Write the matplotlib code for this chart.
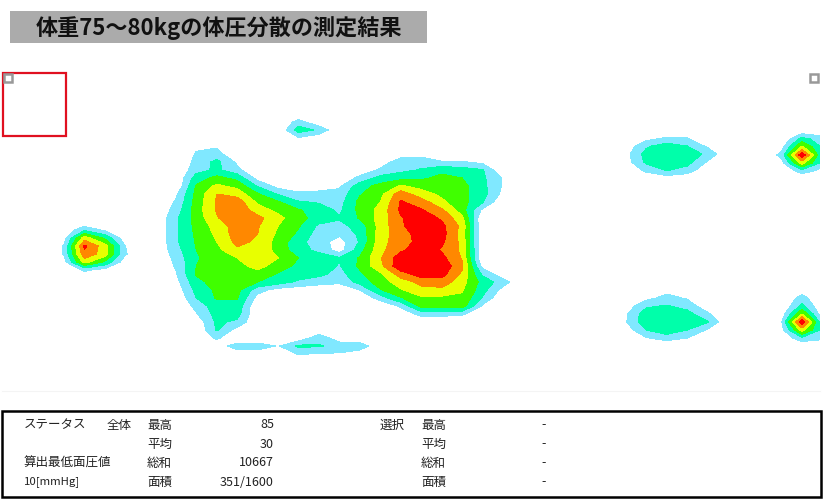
import numpy as np
import matplotlib
matplotlib.use('Agg')
import matplotlib.pyplot as plt
from matplotlib.patches import Rectangle

plt.rcParams['font.family'] = ['Noto Sans CJK JP', 'DejaVu Sans']

# pressure readings [mmHg], one array per contact area
body = [
    [0, 8, 9, 0, 0, 0, 0, 0, 0, 0, 0, 0, 0, 0, 0, 0, 0],
    [0, 11, 13, 3, 0, 0, 0, 0, 0, 0, 0, 7, 7, 0, 0, 0, 0],
    [0, 13, 23, 8, 0, 0, 0, 0, 0, 0, 7, 13, 15, 11, 11, 7, 0],
    [0, 16, 22, 13, 0, 0, 0, 0, 0, 5, 11, 17, 21, 27, 24, 21, 0],
    [0, 25, 33, 27, 6, 0, 0, 0, 4, 12, 24, 27, 28, 33, 30, 22, 9],
    [0, 31, 42, 37, 19, 6, 4, 5, 8, 26, 33, 41, 37, 35, 33, 23, 9],
    [8, 33, 50, 46, 31, 19, 12, 13, 14, 29, 37, 56, 44, 38, 33, 24, 7],
    [11, 34, 51, 56, 38, 31, 21, 19, 16, 33, 40, 61, 55, 42, 34, 21, 0],
    [14, 35, 51, 57, 45, 37, 31, 25, 18, 33, 43, 62, 61, 52, 34, 8, 0],
    [18, 34, 49, 58, 53, 43, 33, 26, 21, 31, 44, 59, 68, 58, 43, 0, 0],
    [18, 33, 44, 55, 51, 40, 31, 18, 17, 24, 44, 58, 68, 63, 47, 0, 0],
    [18, 32, 42, 55, 50, 38, 28, 15, 12, 22, 45, 56, 64, 64, 46, 0, 0],
    [18, 31, 40, 53, 48, 36, 23, 15, 5, 21, 46, 56, 63, 62, 47, 0, 0],
    [16, 30, 37, 48, 46, 37, 23, 18, 5, 26, 47, 58, 66, 59, 48, 0, 0],
    [13, 29, 34, 40, 46, 40, 30, 24, 21, 31, 49, 66, 72, 63, 49, 0, 0],
    [11, 30, 33, 37, 43, 36, 27, 26, 19, 32, 47, 68, 75, 67, 52, 6, 0],
    [9, 31, 34, 36, 37, 29, 26, 23, 16, 28, 38, 55, 66, 64, 48, 18, 3],
    [6, 27, 34, 35, 30, 25, 18, 14, 12, 24, 35, 45, 53, 56, 44, 26, 15],
    [3, 23, 32, 33, 14, 6, 4, 3, 2, 10, 29, 39, 47, 47, 41, 24, 6],
    [0, 20, 31, 31, 6, 0, 0, 0, 0, 0, 15, 29, 38, 38, 38, 19, 0],
    [0, 13, 26, 27, 0, 0, 0, 0, 0, 0, 0, 12, 33, 33, 35, 8, 0],
    [0, 9, 24, 24, 0, 0, 0, 0, 0, 0, 0, 2, 14, 14, 12, 0, 0],
    [0, 3, 22, 18, 0, 0, 0, 0, 0, 0, 0, 0, 0, 0, 0, 0, 0],
    [0, 0, 21, 6, 0, 0, 0, 0, 0, 0, 0, 0, 0, 0, 0, 0, 0],
    [0, 0, 12, 0, 0, 0, 0, 0, 0, 0, 0, 0, 0, 0, 0, 0, 0],
]
head_spot = [
    [2, 18, 8, 0],
    [6, 45, 28, 3],
    [11, 62, 44, 10],
    [11, 57, 45, 11],
    [6, 44, 28, 4],
    [0, 12, 6, 0],
]
top_spot = [
    [14, 2],
    [25, 18],
    [9, 3],
]
strip = [
    [0, 0, 0, 0, 0, 3, 0, 0],
    [0, 0, 0, 0, 3, 16, 4, 0],
    [3, 16, 16, 9, 22, 21, 16, 17],
    [0, 3, 4, 0, 11, 9, 9, 3],
]
foot_top = [
    [0, 6, 11, 10, 0],
    [3, 18, 25, 20, 8],
    [6, 24, 28, 25, 18],
    [5, 22, 28, 24, 9],
    [0, 13, 21, 16, 2],
    [0, 2, 5, 3, 0],
]
foot_bottom = [
    [0, 0, 7, 0, 0],
    [0, 7, 13, 9, 0],
    [4, 18, 21, 16, 3],
    [8, 26, 28, 24, 12],
    [9, 27, 29, 27, 21],
    [4, 20, 26, 20, 9],
    [0, 9, 15, 10, 0],
]
toe_top = [
    [0, 3, 3],
    [0, 24, 14],
    [6, 42, 18],
    [13, 68, 18],
    [6, 44, 16],
    [0, 15, 6],
]
toe_bottom = [
    [0, 5, 0],
    [0, 14, 0],
    [0, 23, 0],
    [4, 40, 3],
    [9, 68, 11],
    [6, 44, 16],
    [0, 18, 12],
    [0, 0, 2],
]

title = '体重75〜80kgの体圧分散の測定結果'
row_names = ['最高', '平均', '総和', '面積']
all_values = ['85', '30', '10667', '351/1600']
sel_values = ['-', '-', '-', '-']

levels = [10, 20, 30, 40, 50, 60, 100]
colors = ['#80E8FF', '#00FFAA', '#40FF00', '#E8FF00', '#FF8800', '#FF0000']

# where each sensor patch sits on the sheet (first column x, first row y)
patches = [
    (body, 175.8, 146),
    (head_spot, 64, 230),
    (top_spot, 298.5, 122),
    (strip, 216.7, 330),
    (foot_top, 625.7, 138),
    (foot_bottom, 625.7, 290),
    (toe_top, 781.5, 131),
    (toe_bottom, 781.5, 290),
]
dx = 20.45
dy = 8

fig = plt.figure(figsize=(8.24, 5), dpi=100)
ax = fig.add_axes([0, 0, 1, 1])
ax.set_xlim(0, 824)
ax.set_ylim(500, 0)
ax.axis('off')

sheet = Rectangle((2, 70), 818, 320, transform=ax.transData)
for values, x0, y0 in patches:
    z = np.pad(np.array(values, dtype=float), 1)
    x = x0 + dx * (np.arange(z.shape[1]) - 1)
    y = y0 + dy * (np.arange(z.shape[0]) - 1)
    cs = ax.contourf(x, y, z, levels=levels, colors=colors)
    cs.set_clip_path(sheet)
ax.plot([2, 820], [391, 391], color='#F4F4F4', lw=0.8)

# title band
ax.add_patch(Rectangle((10, 11), 417, 32, fc='#ABABAB', ec='none'))
ax.text(219, 28, title, fontsize=15.9, fontweight='bold', ha='center', va='center', color='#111111')

# selection box and corner handles
ax.add_patch(Rectangle((3, 73), 63, 63, fc='none', ec='#E01020', lw=1.6))
for hx in (8.5, 814.5):
    ax.plot(hx, 78, marker='s', ms=6, mfc='white', mec='#999999', mew=1.8, ls='none')

# status table
ax.add_patch(Rectangle((2, 411), 819, 86, fc='none', ec='black', lw=1.8))
rows_y = [425, 444, 463, 482]
fs = 9
for y, name, a, s in zip(rows_y, row_names, all_values, sel_values):
    ax.text(147, y, name, fontsize=fs, va='center', color='#222222')
    ax.text(274, y, a, fontsize=fs, va='center', ha='right', color='#222222')
    ax.text(421, y, name, fontsize=fs, va='center', color='#222222')
    ax.text(541, y, s, fontsize=fs, va='center', color='#222222')
ax.text(24, rows_y[0], 'ステータス', fontsize=fs, va='center', color='#222222')
ax.text(107, rows_y[0], '全体', fontsize=fs, va='center', color='#222222')
ax.text(380, rows_y[0], '選択', fontsize=fs, va='center', color='#222222')
ax.text(24, rows_y[2], '算出最低面圧値', fontsize=fs, va='center', color='#222222')
ax.text(24, rows_y[3], '10[mmHg]', fontsize=8.2, va='center', color='#222222')

fig.savefig('out.png', dpi=100)
